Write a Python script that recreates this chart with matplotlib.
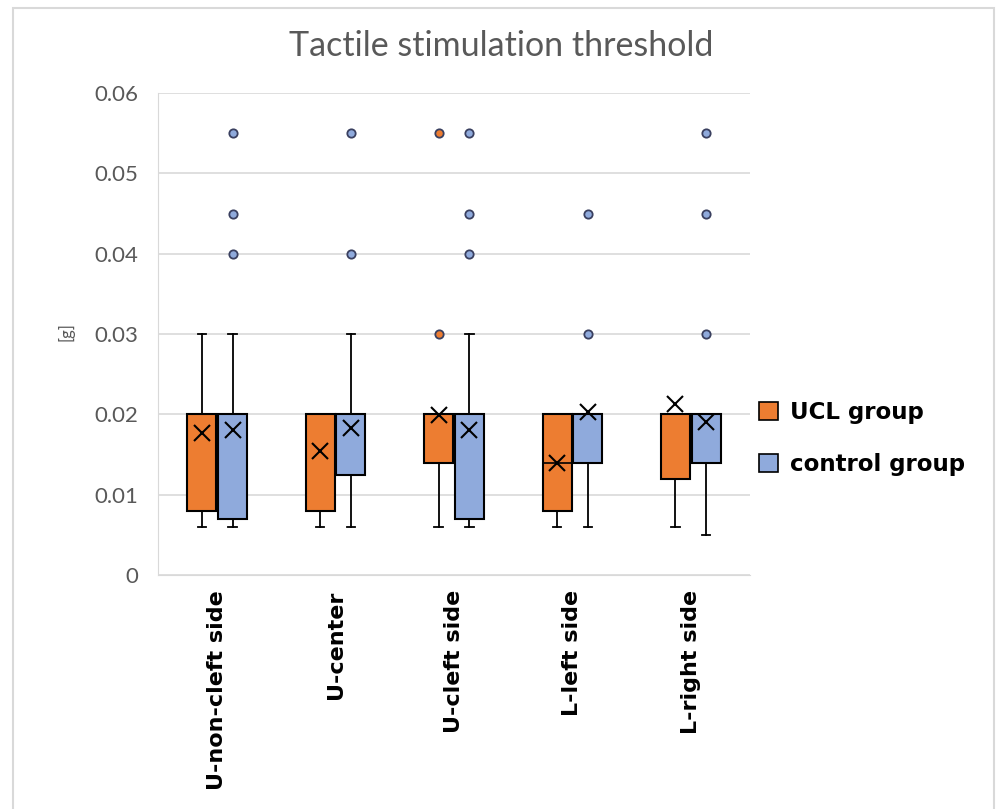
import numpy as np
import matplotlib.pyplot as plt
from matplotlib.patches import Patch, Rectangle

# данные
categories = ['U-non-cleft side', 'U-center', 'U-cleft side', 'L-left side', 'L-right side']
groups = ['UCL group', 'control group']

ucl_whislo = [0.006, 0.006, 0.006, 0.006, 0.006]
ucl_q1 = [0.008, 0.008, 0.014, 0.008, 0.012]
ucl_med = [0.020, 0.020, 0.020, 0.014, 0.020]
ucl_q3 = [0.020, 0.020, 0.020, 0.020, 0.020]
ucl_whishi = [0.030, 0.020, 0.020, 0.020, 0.020]
ucl_mean = [0.0177, 0.0154, 0.0199, 0.0140, 0.0213]
ucl_fliers = [[], [], [0.055, 0.030], [], []]

ctl_whislo = [0.006, 0.006, 0.006, 0.006, 0.005]
ctl_q1 = [0.007, 0.0125, 0.007, 0.014, 0.014]
ctl_med = [0.020, 0.020, 0.020, 0.020, 0.020]
ctl_q3 = [0.020, 0.020, 0.020, 0.020, 0.020]
ctl_whishi = [0.030, 0.030, 0.030, 0.020, 0.020]
ctl_mean = [0.0181, 0.0183, 0.0180, 0.0203, 0.0191]
ctl_fliers = [[0.055, 0.045, 0.040], [0.055, 0.040], [0.055, 0.045, 0.040],
              [0.045, 0.030], [0.055, 0.045, 0.030]]

colors = ['#ED7D31', '#8FAADC']


def make_stats(lo, q1, med, q3, hi, mean, fliers):
    return [dict(whislo=lo[i], q1=q1[i], med=med[i], q3=q3[i], whishi=hi[i],
                 mean=mean[i], fliers=fliers[i]) for i in range(len(lo))]


ucl_stats = make_stats(ucl_whislo, ucl_q1, ucl_med, ucl_q3, ucl_whishi, ucl_mean, ucl_fliers)
ctl_stats = make_stats(ctl_whislo, ctl_q1, ctl_med, ctl_q3, ctl_whishi, ctl_mean, ctl_fliers)

fig = plt.figure(figsize=(10, 8.09), dpi=100)
ax = fig.add_axes([0.158, 0.2893, 0.592, 0.5957])

# рамка вокруг всей картинки
fig.patches.append(Rectangle((0.013, -0.01), 0.981, 1.0, transform=fig.transFigure,
                             fill=False, edgecolor='#d9d9d9', linewidth=1.5))

x = np.arange(len(categories))
for stats, off, col in [(ucl_stats, -0.13, colors[0]), (ctl_stats, 0.13, colors[1])]:
    ax.bxp(stats, positions=x + off, widths=0.245, patch_artist=True, showmeans=True,
           boxprops=dict(facecolor=col, edgecolor='black', linewidth=1.5),
           medianprops=dict(color='black', linewidth=1.2),
           whiskerprops=dict(color='black', linewidth=1.3),
           capprops=dict(color='black', linewidth=1.3),
           capwidths=0.07,
           meanprops=dict(marker='x', markersize=12, markeredgecolor='black',
                          markeredgewidth=1.5),
           flierprops=dict(marker='o', markersize=6, markerfacecolor=col,
                           markeredgecolor='#3a4060', markeredgewidth=1.3),
           zorder=3)

ax.set_xlim(-0.5, len(categories) - 0.5)
ax.set_ylim(0, 0.06)
ax.set_yticks(np.arange(0, 0.061, 0.01))
ax.set_yticklabels(['0', '0.01', '0.02', '0.03', '0.04', '0.05', '0.06'],
                   fontsize=16, color='#595959', family='Lato')
ax.set_xticks(x)
ax.set_xticklabels(categories, rotation=90, fontsize=16, fontweight='bold',
                   family='DejaVu Sans', va='top', ha='center')
ax.tick_params(axis='both', length=0, pad=14)
ax.tick_params(axis='x', pad=11)

ax.grid(axis='y', color='#d9d9d9', linewidth=1.2, zorder=0)
ax.set_axisbelow(True)
for s in ['top', 'right']:
    ax.spines[s].set_visible(False)
ax.spines['left'].set_color('#d9d9d9')
ax.spines['bottom'].set_color('#d9d9d9')

fig.text(0.066, 0.59, '[g]', rotation=90, fontsize=12, color='#595959',
         family='Lato', ha='center', va='center')
fig.text(0.501, 0.943, 'Tactile stimulation threshold', fontsize=24.5, color='#595959',
         family='Lato', ha='center', va='center')

handles = [Patch(facecolor=c, edgecolor='black', linewidth=1.2) for c in colors]
fig.legend(handles, groups, loc='center left', bbox_to_anchor=(0.738, 0.458),
           frameon=False, prop=dict(family='DejaVu Sans', weight='bold', size=16.5),
           handlelength=0.85, handleheight=0.85, handletextpad=0.5, labelspacing=1.25)

plt.savefig('out.png', dpi=100)
